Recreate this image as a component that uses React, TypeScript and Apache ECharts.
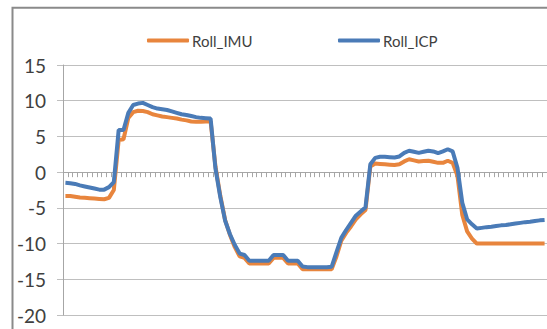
import React, { useEffect, useRef } from "react";
import * as echarts from "echarts";

const rollIMU: number[] = [
  -3.35, -3.35, -3.45, -3.55, -3.6, -3.65, -3.7, -3.75, -3.8, -3.6,
  -2.5, 4.5, 4.6, 7.6, 8.4, 8.6, 8.55, 8.4, 8.1, 7.95,
  7.8, 7.7, 7.6, 7.5, 7.35, 7.25, 7.1, 7.05, 7.05, 7.1,
  7.1, 0.8, -3.3, -6.7, -8.8, -10.5, -11.8, -12.0, -12.8, -12.8,
  -12.8, -12.8, -12.8, -12.0, -12.0, -12.0, -12.8, -12.8, -12.8, -13.6,
  -13.6, -13.6, -13.6, -13.6, -13.6, -13.6, -11.8, -9.6, -8.5, -7.6,
  -6.6, -5.9, -5.3, 0.8, 1.2, 1.15, 1.1, 1.05, 1.0, 1.1,
  1.5, 1.8, 1.65, 1.5, 1.55, 1.6, 1.45, 1.3, 1.3, 1.6,
  1.3, -0.5, -6.0, -8.3, -9.3, -10.0, -10.0, -10.0, -10.0, -10.0,
  -10.0, -10.0, -10.0, -10.0, -10.0, -10.0, -10.0, -10.0, -10.0, -10.0,
];

const rollICP: number[] = [
  -1.5, -1.55, -1.65, -1.85, -2.0, -2.15, -2.3, -2.45, -2.45, -2.1,
  -1.4, 5.9, 5.9, 8.3, 9.4, 9.6, 9.7, 9.4, 9.1, 8.9,
  8.8, 8.7, 8.5, 8.3, 8.1, 8.0, 7.85, 7.7, 7.6, 7.55,
  7.5, 0.5, -3.5, -6.8, -8.7, -10.2, -11.4, -11.6, -12.4, -12.4,
  -12.4, -12.4, -12.4, -11.6, -11.6, -11.6, -12.4, -12.4, -12.4, -13.2,
  -13.3, -13.3, -13.3, -13.3, -13.3, -13.25, -11.2, -9.2, -8.1, -7.1,
  -6.1, -5.5, -4.9, 1.1, 2.0, 2.15, 2.15, 2.1, 2.05, 2.2,
  2.7, 3.0, 2.85, 2.7, 2.85, 3.0, 2.9, 2.65, 2.9, 3.2,
  2.9, 0.6, -4.3, -6.6, -7.3, -7.9, -7.8, -7.7, -7.65, -7.55,
  -7.45, -7.4, -7.3, -7.2, -7.1, -7.0, -6.95, -6.85, -6.75, -6.7,
];

const categories: string[] = rollIMU.map((_, i) => String(i + 1));
const yTicks = { min: -20, max: 15, interval: 5 };

export default function App() {
  const ref = useRef<HTMLDivElement>(null);
  useEffect(() => {
    if (!ref.current) return;
    const chart = echarts.init(ref.current, undefined, { renderer: "svg" });
    const font = "Lato, 'Open Sans', sans-serif";
    const legendText = { fontSize: 15, color: "#404040", fontFamily: font, padding: [0, 0, 0, -2] };
    chart.setOption({
      animation: false,
      backgroundColor: "#ffffff",
      textStyle: { fontFamily: font },
      graphic: [
        {
          type: "rect",
          shape: { x: 12.5, y: 7.7, width: 700, height: 500 },
          style: { fill: "none", stroke: "#8a8a8a", lineWidth: 2 },
          silent: true,
        },
      ],
      legend: [
        {
          data: ["Roll_IMU"],
          left: 142,
          top: 28,
          icon: "roundRect",
          itemWidth: 42,
          itemHeight: 4,
          textStyle: legendText,
        },
        {
          data: ["Roll_ICP"],
          left: 333,
          top: 28,
          icon: "roundRect",
          itemWidth: 42,
          itemHeight: 4,
          textStyle: legendText,
        },
      ],
      grid: { left: 63, right: 0, top: 65, bottom: 14, containLabel: false },
      xAxis: {
        type: "category",
        data: categories,
        boundaryGap: true,
        axisLine: { show: true, onZero: true, lineStyle: { color: "#a6a6a6", width: 1 } },
        axisTick: { show: true, interval: 0, length: 5, lineStyle: { color: "#a6a6a6" } },
        axisLabel: { show: false },
        splitLine: { show: false },
      },
      yAxis: {
        type: "value",
        min: yTicks.min,
        max: yTicks.max,
        interval: yTicks.interval,
        axisLine: { show: true, lineStyle: { color: "#a6a6a6", width: 1 } },
        axisTick: { show: true, length: 6, lineStyle: { color: "#bfbfbf" } },
        axisLabel: { fontSize: 19, color: "#404040", margin: 17, fontFamily: font },
        splitLine: { show: true, lineStyle: { color: "#bfbfbf", width: 1 } },
      },
      series: [
        {
          name: "Roll_IMU",
          type: "line",
          data: rollIMU,
          symbol: "none",
          smooth: false,
          color: "#e8853d",
          lineStyle: { width: 4, color: "#e8853d" },
        },
        {
          name: "Roll_ICP",
          type: "line",
          data: rollICP,
          symbol: "none",
          smooth: false,
          color: "#4a7bb7",
          lineStyle: { width: 4, color: "#4a7bb7" },
        },
      ],
    });
    return () => chart.dispose();
  }, []);
  return (
    <div
      ref={ref}
      style={{ position: "absolute", left: 0, top: 0, width: 547, height: 329 }}
    />
  );
}
